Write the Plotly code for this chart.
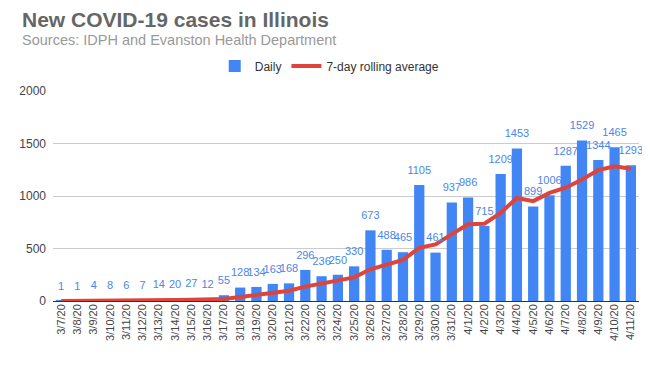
import plotly.graph_objects as go

dates = ["3/7/20", "3/8/20", "3/9/20", "3/10/20", "3/11/20", "3/12/20", "3/13/20",
         "3/14/20", "3/15/20", "3/16/20", "3/17/20", "3/18/20", "3/19/20", "3/20/20",
         "3/21/20", "3/22/20", "3/23/20", "3/24/20", "3/25/20", "3/26/20", "3/27/20",
         "3/28/20", "3/29/20", "3/30/20", "3/31/20", "4/1/20", "4/2/20", "4/3/20",
         "4/4/20", "4/5/20", "4/6/20", "4/7/20", "4/8/20", "4/9/20", "4/10/20", "4/11/20"]

daily = [1, 1, 4, 8, 6, 7, 14, 20, 27, 12, 55, 128, 134, 163, 168, 296, 236, 250,
         330, 673, 488, 465, 1105, 461, 937, 986, 715, 1209, 1453, 899, 1006, 1287,
         1529, 1344, 1465, 1293]

rolling_avg = [0.1, 0.3, 0.9, 2, 2.9, 3.9, 5.9, 8.6, 12.3, 13.4, 20.1, 37.6, 55.7, 77,
               98.1, 136.6, 168.6, 196.4, 225.3, 302.3, 348.7, 391.1, 506.7, 538.9,
               637, 730.7, 736.7, 839.7, 980.9, 951.4, 1029.3, 1079.3, 1156.9,
               1246.7, 1283.3, 1260.4]

y_ticks = [0, 500, 1000, 1500, 2000]

FONT = "Liberation Sans, Arial, sans-serif"

W, H = 642, 358
ML, MR, MT, MB = 45, 11, 83, 65
PW = W - ML - MR
title_x = (12 - ML) / PW

fig = go.Figure()
fig.add_trace(go.Bar(
    x=dates, y=daily, name="Daily",
    marker=dict(color="#4285F4", line=dict(width=0)),
))
fig.add_trace(go.Scatter(
    x=dates, y=rolling_avg, name="7-day rolling average", mode="lines",
    line=dict(color="#E0433A", width=4),
))
fig.add_trace(go.Scatter(
    x=dates, y=daily, mode="markers+text", showlegend=False, hoverinfo="skip",
    marker=dict(size=12, opacity=0),
    text=[str(v) for v in daily], textposition="top center",
    textfont=dict(family=FONT, size=11, color="#4a86e8"),
    cliponaxis=False,
))

fig.update_layout(
    width=W, height=H,
    margin=dict(l=ML, r=MR, t=MT, b=MB),
    paper_bgcolor="white", plot_bgcolor="white",
    font=dict(family=FONT, color="#444444"),
    bargap=0.37,
    showlegend=True,
    legend=dict(orientation="h", xref="container", yref="container",
                x=0.322, y=1 - 58 / H, xanchor="left", yanchor="middle",
                font=dict(family=FONT, size=12, color="#333333"),
                itemwidth=30, bgcolor="rgba(0,0,0,0)"),
    annotations=[
        dict(text="<b>New COVID-19 cases in Illinois</b>", xref="paper", yref="paper",
             x=title_x, y=1.0, xanchor="left", yanchor="bottom",
             yshift=58, showarrow=False,
             font=dict(family=FONT, size=21, color="#666666")),
        dict(text="Sources: IDPH and Evanston Health Department", xref="paper", yref="paper",
             x=title_x, y=1.0, xanchor="left", yanchor="bottom",
             yshift=41, showarrow=False,
             font=dict(family=FONT, size=14.5, color="#999999")),
    ],
)
fig.update_xaxes(type="category", range=[-0.5, len(dates) - 0.5], tickangle=-90,
                 tickfont=dict(family=FONT, size=11, color="#444444"),
                 showgrid=False, showline=False, ticks="", automargin=False)
fig.update_yaxes(range=[0, 2000], tickvals=y_ticks, tickfont=dict(family=FONT, size=12, color="#444444"),
                 gridcolor="#cccccc", zeroline=True, zerolinecolor="#333333", zerolinewidth=1,
                 ticks="", ticklabelstandoff=6, automargin=False)

fig.write_html("out.html")
